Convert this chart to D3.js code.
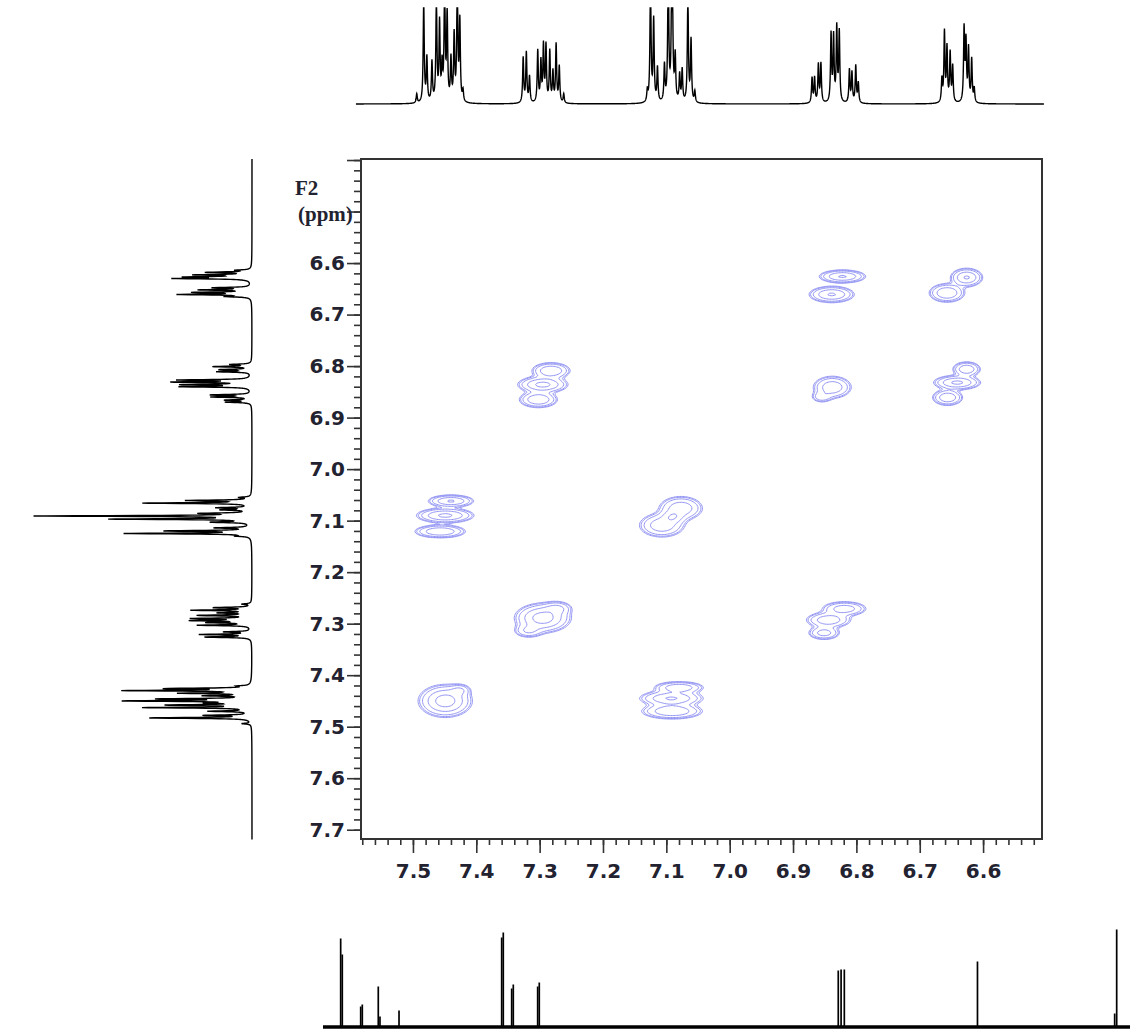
<!DOCTYPE html>
<html><head><meta charset="utf-8">
<script src="https://cdn.jsdelivr.net/npm/d3@7"></script>
<style>body{margin:0;background:#fff}svg{display:block}</style>
</head><body>
<svg id="c" width="1136" height="1032"></svg>
<script>
// ---------- data ----------
const xTickLabels = [7.5, 7.4, 7.3, 7.2, 7.1, 7.0, 6.9, 6.8, 6.7, 6.6];
const yTickLabels = [6.6, 6.7, 6.8, 6.9, 7.0, 7.1, 7.2, 7.3, 7.4, 7.5, 7.6, 7.7];
const yMajorUnlabelled = [6.4, 6.5];
const xDomain = [7.582, 6.507];   // F1 (ppm)
const yDomain = [6.398, 7.718];   // F2 (ppm)

// 1H projection lines: [ppm, intensity]
const protonLines = [
  [7.494, 9], [7.483, 100], [7.478, 44], [7.470, 40], [7.463, 104], [7.458, 78],
  [7.454, 34], [7.450, 120], [7.446, 86], [7.440, 42], [7.435, 66], [7.430, 122],
  [7.426, 80], [7.421, 11],
  [7.326, 45], [7.321, 50], [7.316, 26], [7.303, 52], [7.298, 40], [7.294, 56],
  [7.290, 56], [7.284, 51], [7.279, 30], [7.274, 58], [7.269, 36], [7.262, 9],
  [7.130, 11], [7.125, 124], [7.120, 82], [7.114, 34], [7.103, 36], [7.097, 136],
  [7.091, 212], [7.086, 44], [7.079, 27], [7.075, 32], [7.066, 106], [7.061, 62],
  [7.055, 11],
  [6.870, 25], [6.866, 25], [6.860, 38], [6.856, 39], [6.840, 68], [6.836, 65],
  [6.831, 74], [6.827, 70], [6.811, 33], [6.807, 30], [6.801, 37], [6.797, 20],
  [6.665, 23], [6.661, 70], [6.657, 54], [6.652, 49], [6.648, 36], [6.630, 73],
  [6.627, 59], [6.623, 53], [6.618, 43], [6.614, 14]
];
const lineHalfWidth = 0.001; // ppm

// 2D COSY peak components: [F1 ppm, F2 ppm, sigmaF1, sigmaF2, amplitude]
const cosyPeaks = [
  [6.822, 6.626, 0.018, 0.0062, 0.8], [6.839, 6.661, 0.0175, 0.0078, 0.8],
  [6.626, 6.628, 0.0125, 0.0088, 0.8], [6.657, 6.658, 0.014, 0.009, 0.75],
  [7.282, 6.809, 0.015, 0.0078, 0.75], [7.295, 6.836, 0.019, 0.0078, 0.9], [7.302, 6.865, 0.015, 0.0078, 0.75],
  [6.838, 6.841, 0.0155, 0.011, 0.65], [6.855, 6.860, 0.009, 0.006, 0.3],
  [6.626, 6.806, 0.011, 0.0072, 0.7], [6.641, 6.832, 0.018, 0.0068, 0.85], [6.656, 6.861, 0.012, 0.0078, 0.7],
  [7.440, 7.062, 0.0176, 0.0058, 0.8], [7.449, 7.090, 0.022, 0.0070, 0.85], [7.457, 7.121, 0.0199, 0.0062, 0.75],
  [7.077, 7.076, 0.0176, 0.0118, 0.65], [7.107, 7.109, 0.0183, 0.0118, 0.65], [7.090, 7.093, 0.010, 0.007, 0.5],
  [7.295, 7.289, 0.021, 0.0135, 1.0], [7.272, 7.270, 0.012, 0.007, 0.4], [7.318, 7.314, 0.012, 0.007, 0.4],
  [6.819, 7.271, 0.018, 0.0072, 0.6], [6.844, 7.293, 0.018, 0.0078, 0.65], [6.851, 7.318, 0.013, 0.0068, 0.55],
  [7.449, 7.450, 0.020, 0.015, 1.0], [7.426, 7.429, 0.009, 0.006, 0.35],
  [7.080, 7.424, 0.0194, 0.0058, 0.7], [7.092, 7.445, 0.0246, 0.0075, 0.8], [7.091, 7.470, 0.0239, 0.0075, 0.75]
];
const contourLevels = [0.1, 0.13, 0.2, 0.4, 0.75];

// bottom spectrum sticks: [position (0-100 of trace), height]
const bottomSticks = [
  [2.19, 87], [2.39, 71], [4.67, 19], [4.87, 21], [6.85, 39], [7.06, 9], [9.42, 15],
  [22.14, 88], [22.34, 93], [23.38, 37], [23.58, 41], [26.6, 39], [26.8, 43],
  [63.85, 55], [64.2, 56], [64.6, 56], [81.1, 64], [98.1, 12], [98.35, 96]
];

// ---------- layout ----------
const svg = d3.select('#c');
const box = {l: 361, r: 1042, t: 159, b: 839};
const x = d3.scaleLinear(xDomain, [box.l, box.r]);
const y = d3.scaleLinear(yDomain, [box.t, box.b]);
const ink = '#222230';
const font = '"DejaVu Sans", Verdana, sans-serif';

function intensity(p) {
  let s = 0;
  const g2 = lineHalfWidth * lineHalfWidth;
  for (const [c, h] of protonLines) { const d = p - c; s += h * g2 / (d * d + g2); }
  return s;
}

// top projection
const topBase = 104, topClip = 96;
const topPts = d3.range(7.590, 6.504, -0.00025).map(p => [x(p), topBase - Math.min(intensity(p), topClip)]);
svg.append('path').attr('d', d3.line()(topPts)).attr('fill', 'none')
  .attr('stroke', '#000').attr('stroke-width', 1.4);

// left projection
const leftBase = 252;
const leftPts = d3.range(6.398, 7.719, 0.00025).map(p => [leftBase - intensity(p), y(p)]);
svg.append('path').attr('d', d3.line()(leftPts)).attr('fill', 'none')
  .attr('stroke', '#000').attr('stroke-width', 1.4);

// contours
const step = 1.5;
const nx = Math.ceil((box.r - box.l) / step), ny = Math.ceil((box.b - box.t) / step);
const vals = new Float64Array(nx * ny);
const colP = d3.range(nx).map(i => x.invert(box.l + (i + 0.5) * step));
const rowP = d3.range(ny).map(j => y.invert(box.t + (j + 0.5) * step));
for (const [cx, cy, sx, sy, a] of cosyPeaks) {
  const ex = colP.map(p => Math.exp(-((p - cx) ** 2) / (2 * sx * sx)));
  const ey = rowP.map(p => a * Math.exp(-((p - cy) ** 2) / (2 * sy * sy)));
  for (let j = 0; j < ny; j++) {
    const e = ey[j]; if (e < 1e-4) continue;
    const o = j * nx;
    for (let i = 0; i < nx; i++) { const v = ex[i]; if (v > 1e-4) vals[o + i] += e * v; }
  }
}
const contours = d3.contours().size([nx, ny]).thresholds(contourLevels)(vals);
const tr = d3.geoTransform({point(gx, gy) { this.stream.point(box.l + gx * step, box.t + gy * step); }});
const gpath = d3.geoPath(tr);
svg.append('g').selectAll('path').data(contours).join('path')
  .attr('d', gpath).attr('fill', 'none').attr('stroke', '#9395f4').attr('stroke-width', 1);

// axes
const xMinor = d3.range(652, 759, 2).map(k => k / 100);
const yMinor = d3.range(640, 771, 2).map(k => k / 100);
const gxm = svg.append('g').attr('transform', `translate(0,${box.b})`)
  .call(d3.axisBottom(x).tickValues(xMinor).tickSize(6).tickFormat(''));
const gxM = svg.append('g').attr('transform', `translate(0,${box.b})`)
  .call(d3.axisBottom(x).tickValues(xTickLabels).tickSize(14).tickPadding(11).tickFormat(d3.format('.1f')));
const gym = svg.append('g').attr('transform', `translate(${box.l},0)`)
  .call(d3.axisLeft(y).tickValues(yMinor).tickSize(7).tickFormat(''));
const gyM = svg.append('g').attr('transform', `translate(${box.l},0)`)
  .call(d3.axisLeft(y).tickValues(yMajorUnlabelled.concat(yTickLabels)).tickSize(14).tickPadding(2)
    .tickFormat(d => yTickLabels.includes(d) ? d3.format('.1f')(d) : ''));
for (const g of [gxm, gxM, gym, gyM]) {
  g.select('.domain').remove();
  g.selectAll('line').attr('stroke', '#333').attr('stroke-width', 1.6);
  g.selectAll('text').attr('fill', ink).attr('font-family', font).attr('font-weight', 'bold').attr('font-size', 20);
}

// frame
svg.append('rect').attr('x', box.l).attr('y', box.t).attr('width', box.r - box.l).attr('height', box.b - box.t)
  .attr('fill', 'none').attr('stroke', '#333').attr('stroke-width', 2);

// F2 label
svg.append('text').attr('x', 295).attr('y', 195).text('F2')
  .attr('font-family', '"Liberation Serif", serif').attr('font-weight', 'bold').attr('font-size', 21).attr('fill', ink);
svg.append('text').attr('x', 298).attr('y', 221).text('(ppm)')
  .attr('font-family', '"Liberation Serif", serif').attr('font-weight', 'bold').attr('font-size', 21).attr('fill', ink);

// bottom spectrum
const xb = d3.scaleLinear([0, 100], [323, 1130]);
const bBase = 1027;
svg.append('line').attr('x1', xb(0)).attr('x2', xb(100)).attr('y1', bBase).attr('y2', bBase)
  .attr('stroke', '#000').attr('stroke-width', 3.4);
svg.append('g').selectAll('line').data(bottomSticks).join('line')
  .attr('x1', d => xb(d[0])).attr('x2', d => xb(d[0]))
  .attr('y1', bBase).attr('y2', d => bBase - 1.5 - d[1])
  .attr('stroke', '#000').attr('stroke-width', 1.7);
</script>
</body></html>
